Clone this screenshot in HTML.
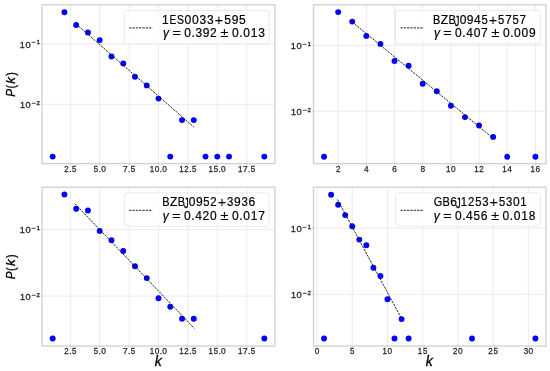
<!DOCTYPE html>
<html><head><meta charset="utf-8"><title>Degree distributions P(k)</title>
<style>html,body{margin:0;padding:0;background:#fff;}svg{display:block;will-change:transform;}</style></head><body>
<svg width="550" height="371" viewBox="0 0 550 371" font-family='"Liberation Sans", sans-serif'>
<rect width="550" height="371" fill="#fff"/>
<g stroke="#ebebeb" stroke-width="1"><line x1="70.32" y1="4.8" x2="70.32" y2="163.6"/><line x1="99.71" y1="4.8" x2="99.71" y2="163.6"/><line x1="129.11" y1="4.8" x2="129.11" y2="163.6"/><line x1="158.5" y1="4.8" x2="158.5" y2="163.6"/><line x1="187.89" y1="4.8" x2="187.89" y2="163.6"/><line x1="217.29" y1="4.8" x2="217.29" y2="163.6"/><line x1="246.68" y1="4.8" x2="246.68" y2="163.6"/><line x1="42.1" y1="43.8" x2="274.9" y2="43.8"/><line x1="42.1" y1="104.3" x2="274.9" y2="104.3"/></g>
<rect x="42.1" y="4.8" width="232.8" height="158.8" fill="none" stroke="#d0d0d0" stroke-width="1.3"/>
<g stroke="#bdbdbd" stroke-width="0.9"><line x1="70.32" y1="164.2" x2="70.32" y2="165.2"/><line x1="99.71" y1="164.2" x2="99.71" y2="165.2"/><line x1="129.11" y1="164.2" x2="129.11" y2="165.2"/><line x1="158.5" y1="164.2" x2="158.5" y2="165.2"/><line x1="187.89" y1="164.2" x2="187.89" y2="165.2"/><line x1="217.29" y1="164.2" x2="217.29" y2="165.2"/><line x1="246.68" y1="164.2" x2="246.68" y2="165.2"/><line x1="41.5" y1="43.8" x2="40.5" y2="43.8"/><line x1="41.5" y1="104.3" x2="40.5" y2="104.3"/></g>
<g fill="#0000ff"><circle cx="52.68" cy="156.6" r="2.95"/><circle cx="64.44" cy="12.2" r="2.95"/><circle cx="76.2" cy="25" r="2.95"/><circle cx="87.95" cy="32.5" r="2.95"/><circle cx="99.71" cy="40.1" r="2.95"/><circle cx="111.47" cy="56.5" r="2.95"/><circle cx="123.23" cy="63.4" r="2.95"/><circle cx="134.98" cy="76.7" r="2.95"/><circle cx="146.74" cy="85.4" r="2.95"/><circle cx="158.5" cy="98.6" r="2.95"/><circle cx="170.26" cy="156.6" r="2.95"/><circle cx="182.02" cy="120.1" r="2.95"/><circle cx="193.77" cy="120.1" r="2.95"/><circle cx="205.53" cy="156.6" r="2.95"/><circle cx="217.29" cy="156.6" r="2.95"/><circle cx="229.05" cy="156.6" r="2.95"/><circle cx="264.32" cy="156.6" r="2.95"/></g>
<line x1="76.2" y1="24" x2="193.77" y2="127" stroke="#1a1a1a" stroke-width="0.95" stroke-dasharray="2.3 1.0"/>
<g stroke="#ebebeb" stroke-width="1"><line x1="338.16" y1="4.8" x2="338.16" y2="163.6"/><line x1="366.34" y1="4.8" x2="366.34" y2="163.6"/><line x1="394.52" y1="4.8" x2="394.52" y2="163.6"/><line x1="422.7" y1="4.8" x2="422.7" y2="163.6"/><line x1="450.89" y1="4.8" x2="450.89" y2="163.6"/><line x1="479.07" y1="4.8" x2="479.07" y2="163.6"/><line x1="507.25" y1="4.8" x2="507.25" y2="163.6"/><line x1="535.43" y1="4.8" x2="535.43" y2="163.6"/><line x1="313.5" y1="45.4" x2="546" y2="45.4"/><line x1="313.5" y1="111.2" x2="546" y2="111.2"/></g>
<rect x="313.5" y="4.8" width="232.5" height="158.8" fill="none" stroke="#d0d0d0" stroke-width="1.3"/>
<g stroke="#bdbdbd" stroke-width="0.9"><line x1="338.16" y1="164.2" x2="338.16" y2="165.2"/><line x1="366.34" y1="164.2" x2="366.34" y2="165.2"/><line x1="394.52" y1="164.2" x2="394.52" y2="165.2"/><line x1="422.7" y1="164.2" x2="422.7" y2="165.2"/><line x1="450.89" y1="164.2" x2="450.89" y2="165.2"/><line x1="479.07" y1="164.2" x2="479.07" y2="165.2"/><line x1="507.25" y1="164.2" x2="507.25" y2="165.2"/><line x1="535.43" y1="164.2" x2="535.43" y2="165.2"/><line x1="312.9" y1="45.4" x2="311.9" y2="45.4"/><line x1="312.9" y1="111.2" x2="311.9" y2="111.2"/></g>
<g fill="#0000ff"><circle cx="324.07" cy="156.7" r="2.95"/><circle cx="338.16" cy="12.1" r="2.95"/><circle cx="352.25" cy="21.6" r="2.95"/><circle cx="366.34" cy="35.9" r="2.95"/><circle cx="380.43" cy="43.9" r="2.95"/><circle cx="394.52" cy="61" r="2.95"/><circle cx="408.61" cy="65.8" r="2.95"/><circle cx="422.7" cy="83.7" r="2.95"/><circle cx="436.8" cy="91.2" r="2.95"/><circle cx="450.89" cy="105.8" r="2.95"/><circle cx="464.98" cy="117.1" r="2.95"/><circle cx="479.07" cy="125.5" r="2.95"/><circle cx="493.16" cy="136.9" r="2.95"/><circle cx="507.25" cy="156.8" r="2.95"/><circle cx="535.43" cy="156.8" r="2.95"/></g>
<line x1="352.25" y1="22" x2="493.16" y2="138.3" stroke="#1a1a1a" stroke-width="0.95" stroke-dasharray="2.3 1.0"/>
<g stroke="#ebebeb" stroke-width="1"><line x1="70.32" y1="187.2" x2="70.32" y2="346"/><line x1="99.71" y1="187.2" x2="99.71" y2="346"/><line x1="129.11" y1="187.2" x2="129.11" y2="346"/><line x1="158.5" y1="187.2" x2="158.5" y2="346"/><line x1="187.89" y1="187.2" x2="187.89" y2="346"/><line x1="217.29" y1="187.2" x2="217.29" y2="346"/><line x1="246.68" y1="187.2" x2="246.68" y2="346"/><line x1="42.1" y1="229.4" x2="274.9" y2="229.4"/><line x1="42.1" y1="296.1" x2="274.9" y2="296.1"/></g>
<rect x="42.1" y="187.2" width="232.8" height="158.8" fill="none" stroke="#d0d0d0" stroke-width="1.3"/>
<g stroke="#bdbdbd" stroke-width="0.9"><line x1="70.32" y1="346.6" x2="70.32" y2="347.6"/><line x1="99.71" y1="346.6" x2="99.71" y2="347.6"/><line x1="129.11" y1="346.6" x2="129.11" y2="347.6"/><line x1="158.5" y1="346.6" x2="158.5" y2="347.6"/><line x1="187.89" y1="346.6" x2="187.89" y2="347.6"/><line x1="217.29" y1="346.6" x2="217.29" y2="347.6"/><line x1="246.68" y1="346.6" x2="246.68" y2="347.6"/><line x1="41.5" y1="229.4" x2="40.5" y2="229.4"/><line x1="41.5" y1="296.1" x2="40.5" y2="296.1"/></g>
<g fill="#0000ff"><circle cx="52.68" cy="338.5" r="2.95"/><circle cx="64.44" cy="194.5" r="2.95"/><circle cx="76.2" cy="208.8" r="2.95"/><circle cx="87.95" cy="210.5" r="2.95"/><circle cx="99.71" cy="230.9" r="2.95"/><circle cx="111.47" cy="240.3" r="2.95"/><circle cx="123.23" cy="251" r="2.95"/><circle cx="134.98" cy="266.3" r="2.95"/><circle cx="146.74" cy="278.1" r="2.95"/><circle cx="158.5" cy="298.3" r="2.95"/><circle cx="170.26" cy="306.8" r="2.95"/><circle cx="182.02" cy="318.7" r="2.95"/><circle cx="193.77" cy="318.7" r="2.95"/><circle cx="264.32" cy="338.5" r="2.95"/></g>
<line x1="75.02" y1="203.8" x2="194.36" y2="328.4" stroke="#1a1a1a" stroke-width="0.95" stroke-dasharray="2.3 1.0"/>
<g stroke="#ebebeb" stroke-width="1"><line x1="317.02" y1="187.2" x2="317.02" y2="346"/><line x1="352.25" y1="187.2" x2="352.25" y2="346"/><line x1="387.48" y1="187.2" x2="387.48" y2="346"/><line x1="422.7" y1="187.2" x2="422.7" y2="346"/><line x1="457.93" y1="187.2" x2="457.93" y2="346"/><line x1="493.16" y1="187.2" x2="493.16" y2="346"/><line x1="528.39" y1="187.2" x2="528.39" y2="346"/><line x1="313.5" y1="228.2" x2="546" y2="228.2"/><line x1="313.5" y1="294.4" x2="546" y2="294.4"/></g>
<rect x="313.5" y="187.2" width="232.5" height="158.8" fill="none" stroke="#d0d0d0" stroke-width="1.3"/>
<g stroke="#bdbdbd" stroke-width="0.9"><line x1="317.02" y1="346.6" x2="317.02" y2="347.6"/><line x1="352.25" y1="346.6" x2="352.25" y2="347.6"/><line x1="387.48" y1="346.6" x2="387.48" y2="347.6"/><line x1="422.7" y1="346.6" x2="422.7" y2="347.6"/><line x1="457.93" y1="346.6" x2="457.93" y2="347.6"/><line x1="493.16" y1="346.6" x2="493.16" y2="347.6"/><line x1="528.39" y1="346.6" x2="528.39" y2="347.6"/><line x1="312.9" y1="228.2" x2="311.9" y2="228.2"/><line x1="312.9" y1="294.4" x2="311.9" y2="294.4"/></g>
<g fill="#0000ff"><circle cx="324.07" cy="338.5" r="2.95"/><circle cx="331.11" cy="194.7" r="2.95"/><circle cx="338.16" cy="204.7" r="2.95"/><circle cx="345.2" cy="215.1" r="2.95"/><circle cx="352.25" cy="226.2" r="2.95"/><circle cx="359.3" cy="239.6" r="2.95"/><circle cx="366.34" cy="245.2" r="2.95"/><circle cx="373.39" cy="267.8" r="2.95"/><circle cx="380.43" cy="276" r="2.95"/><circle cx="387.48" cy="299.2" r="2.95"/><circle cx="394.52" cy="338.5" r="2.95"/><circle cx="401.57" cy="319.1" r="2.95"/><circle cx="408.61" cy="338.5" r="2.95"/><circle cx="472.02" cy="338.5" r="2.95"/><circle cx="535.43" cy="338.5" r="2.95"/></g>
<line x1="337.45" y1="199.5" x2="401.57" y2="318.8" stroke="#1a1a1a" stroke-width="0.95" stroke-dasharray="2.3 1.0"/>
<rect x="124.3" y="10.5" width="144.9" height="33.3" rx="2.3" fill="#fff" fill-opacity="0.8" stroke="#e4e4e4" stroke-width="0.8"/>
<line x1="129.2" y1="27.9" x2="152.5" y2="27.9" stroke="#1a1a1a" stroke-width="0.95" stroke-dasharray="2.3 1.0"/>
<rect x="395.6" y="10.5" width="144.8" height="33.3" rx="2.3" fill="#fff" fill-opacity="0.8" stroke="#e4e4e4" stroke-width="0.8"/>
<line x1="400.5" y1="27.9" x2="423.8" y2="27.9" stroke="#1a1a1a" stroke-width="0.95" stroke-dasharray="2.3 1.0"/>
<rect x="124.3" y="192.9" width="144.9" height="33.3" rx="2.3" fill="#fff" fill-opacity="0.8" stroke="#e4e4e4" stroke-width="0.8"/>
<line x1="129.2" y1="210.3" x2="152.5" y2="210.3" stroke="#1a1a1a" stroke-width="0.95" stroke-dasharray="2.3 1.0"/>
<rect x="395.6" y="192.9" width="144.8" height="33.3" rx="2.3" fill="#fff" fill-opacity="0.8" stroke="#e4e4e4" stroke-width="0.8"/>
<line x1="400.5" y1="210.3" x2="423.8" y2="210.3" stroke="#1a1a1a" stroke-width="0.95" stroke-dasharray="2.3 1.0"/>
<text fill="#262626" stroke="#262626" stroke-width="0.25"><tspan x="69.22" y="171.85" font-size="8.3">.</tspan></text><text transform="translate(66.5,171.85) scale(0.966,1)" x="-2.31" y="0" font-size="8.3" fill="#262626" stroke="#262626" stroke-width="0.25">2</text><text transform="translate(74.1,171.85) scale(0.948,1)" x="-2.3" y="0" font-size="8.3" fill="#262626" stroke="#262626" stroke-width="0.25">5</text>
<text fill="#262626" stroke="#262626" stroke-width="0.25"><tspan x="98.51 101.13" y="171.85 171.85" font-size="8.3">.0</tspan></text><text transform="translate(95.86,171.85) scale(0.948,1)" x="-2.3" y="0" font-size="8.3" fill="#262626" stroke="#262626" stroke-width="0.25">5</text>
<text fill="#262626" stroke="#262626" stroke-width="0.25"><tspan x="123.03 127.97" y="171.85 171.85" font-size="8.3">7.</tspan></text><text transform="translate(132.86,171.85) scale(0.948,1)" x="-2.3" y="0" font-size="8.3" fill="#262626" stroke="#262626" stroke-width="0.25">5</text>
<text fill="#262626" stroke="#262626" stroke-width="0.25"><tspan x="154.76 159.68 162.3" y="171.85 171.85 171.85" font-size="8.3">0.0</tspan></text><text transform="translate(152.12,171.85) scale(0.958,1)" x="-2.42" y="0" font-size="8.3" fill="#262626" stroke="#262626" stroke-width="0.25">1</text>
<text fill="#262626" stroke="#262626" stroke-width="0.25"><tspan x="189.16" y="171.85" font-size="8.3">.</tspan></text><text transform="translate(181.59,171.85) scale(0.958,1)" x="-2.42" y="0" font-size="8.3" fill="#262626" stroke="#262626" stroke-width="0.25">1</text><text transform="translate(186.44,171.85) scale(0.966,1)" x="-2.31" y="0" font-size="8.3" fill="#262626" stroke="#262626" stroke-width="0.25">2</text><text transform="translate(194.05,171.85) scale(0.948,1)" x="-2.3" y="0" font-size="8.3" fill="#262626" stroke="#262626" stroke-width="0.25">5</text>
<text fill="#262626" stroke="#262626" stroke-width="0.25"><tspan x="218.47 221.09" y="171.85 171.85" font-size="8.3">.0</tspan></text><text transform="translate(210.9,171.85) scale(0.958,1)" x="-2.42" y="0" font-size="8.3" fill="#262626" stroke="#262626" stroke-width="0.25">1</text><text transform="translate(215.82,171.85) scale(0.948,1)" x="-2.3" y="0" font-size="8.3" fill="#262626" stroke="#262626" stroke-width="0.25">5</text>
<text fill="#262626" stroke="#262626" stroke-width="0.25"><tspan x="243.01 247.95" y="171.85 171.85" font-size="8.3">7.</tspan></text><text transform="translate(240.38,171.85) scale(0.958,1)" x="-2.42" y="0" font-size="8.3" fill="#262626" stroke="#262626" stroke-width="0.25">1</text><text transform="translate(252.83,171.85) scale(0.948,1)" x="-2.3" y="0" font-size="8.3" fill="#262626" stroke="#262626" stroke-width="0.25">5</text>
<text fill="#262626" stroke="#262626" stroke-width="0.3"><tspan x="25.53" y="47.7" font-size="9.4">0</tspan><tspan x="36.62" y="44.25" font-size="6.2">1</tspan></text><text transform="translate(22.5,47.7) scale(0.964,1)" x="-2.74" y="0" font-size="9.4" fill="#262626" stroke="#262626" stroke-width="0.3">1</text><text transform="translate(33.73,42.28) scale(0.811,1.197)" x="-2.92" y="3.33" font-size="10" fill="#262626">−</text>
<text fill="#262626" stroke="#262626" stroke-width="0.3"><tspan x="25.58" y="108.2" font-size="9.4">0</tspan><tspan x="36.62" y="104.75" font-size="6.2">2</tspan></text><text transform="translate(22.55,108.2) scale(0.964,1)" x="-2.74" y="0" font-size="9.4" fill="#262626" stroke="#262626" stroke-width="0.3">1</text><text transform="translate(33.78,102.78) scale(0.811,1.197)" x="-2.92" y="3.33" font-size="10" fill="#262626">−</text>
<text fill="#000" stroke="#000" stroke-width="0.2"><tspan x="162.05 184.46 191.94 199.42 206.9 224.16 231.63 239.1" y="23.7 23.7 23.7 23.7 23.7 23.7 23.7 23.7" font-size="12">10033595</tspan></text><text transform="translate(173.09,23.7) scale(0.849,1)" x="-4.24" y="0" font-size="12" fill="#000" stroke="#000" stroke-width="0.2">E</text><text transform="translate(180.39,23.7) scale(0.873,1)" x="-4" y="0" font-size="12" fill="#000" stroke="#000" stroke-width="0.2">S</text><text transform="translate(218.88,20.09) scale(1.513,1.475)" x="-2.92" y="3.32" font-size="10" fill="#000">+</text>
<text fill="#000" stroke="#000" stroke-width="0.2"><tspan x="162.99" y="37.4" font-size="12" font-style="italic">γ</tspan><tspan x="184.18 191.44 195.39 202.8 210.01 232.04 239.3 243.24 250.65 258.18" y="37.4 37.4 37.4 37.4 37.4 37.4 37.4 37.4 37.4 37.4" font-size="12">0.3920.013</tspan></text><text transform="translate(176.58,33.8) scale(1.512,1.007)" x="-2.92" y="3.29" font-size="10" fill="#000">=</text><text transform="translate(224.44,33.79) scale(1.512,1.212)" x="-2.75" y="2.97" font-size="10" fill="#000">±</text>
<text fill="#262626" stroke="#262626" stroke-width="0.25"></text><text transform="translate(338.16,171.85) scale(0.966,1)" x="-2.31" y="0" font-size="8.3" fill="#262626" stroke="#262626" stroke-width="0.25">2</text>
<text fill="#262626" stroke="#262626" stroke-width="0.25"><tspan x="364.06" y="171.85" font-size="8.3">4</tspan></text>
<text fill="#262626" stroke="#262626" stroke-width="0.25"><tspan x="392.19" y="171.85" font-size="8.3">6</tspan></text>
<text fill="#262626" stroke="#262626" stroke-width="0.25"><tspan x="420.4" y="171.85" font-size="8.3">8</tspan></text>
<text fill="#262626" stroke="#262626" stroke-width="0.25"><tspan x="450.92" y="171.85" font-size="8.3">0</tspan></text><text transform="translate(448.27,171.85) scale(0.958,1)" x="-2.42" y="0" font-size="8.3" fill="#262626" stroke="#262626" stroke-width="0.25">1</text>
<text fill="#262626" stroke="#262626" stroke-width="0.25"></text><text transform="translate(476.59,171.85) scale(0.958,1)" x="-2.42" y="0" font-size="8.3" fill="#262626" stroke="#262626" stroke-width="0.25">1</text><text transform="translate(481.44,171.85) scale(0.966,1)" x="-2.31" y="0" font-size="8.3" fill="#262626" stroke="#262626" stroke-width="0.25">2</text>
<text fill="#262626" stroke="#262626" stroke-width="0.25"><tspan x="507.24" y="171.85" font-size="8.3">4</tspan></text><text transform="translate(504.59,171.85) scale(0.958,1)" x="-2.42" y="0" font-size="8.3" fill="#262626" stroke="#262626" stroke-width="0.25">1</text>
<text fill="#262626" stroke="#262626" stroke-width="0.25"><tspan x="535.45" y="171.85" font-size="8.3">6</tspan></text><text transform="translate(532.8,171.85) scale(0.958,1)" x="-2.42" y="0" font-size="8.3" fill="#262626" stroke="#262626" stroke-width="0.25">1</text>
<text fill="#262626" stroke="#262626" stroke-width="0.3"><tspan x="296.53" y="49.3" font-size="9.4">0</tspan><tspan x="307.62" y="45.85" font-size="6.2">1</tspan></text><text transform="translate(293.5,49.3) scale(0.964,1)" x="-2.74" y="0" font-size="9.4" fill="#262626" stroke="#262626" stroke-width="0.3">1</text><text transform="translate(304.73,43.88) scale(0.811,1.197)" x="-2.92" y="3.33" font-size="10" fill="#262626">−</text>
<text fill="#262626" stroke="#262626" stroke-width="0.3"><tspan x="296.58" y="115.1" font-size="9.4">0</tspan><tspan x="307.62" y="111.65" font-size="6.2">2</tspan></text><text transform="translate(293.55,115.1) scale(0.964,1)" x="-2.74" y="0" font-size="9.4" fill="#262626" stroke="#262626" stroke-width="0.3">1</text><text transform="translate(304.78,109.68) scale(0.811,1.197)" x="-2.92" y="3.33" font-size="10" fill="#262626">−</text>
<text fill="#000" stroke="#000" stroke-width="0.2"><tspan x="440.74 459.63 466.78 474.01" y="23.7 23.7 23.7 23.7" font-size="12">Z094</tspan></text><text transform="translate(436.82,23.7) scale(0.915,1)" x="-4.18" y="0" font-size="12" fill="#000" stroke="#000" stroke-width="0.2">B</text><text transform="translate(452.32,23.7) scale(0.915,1)" x="-4.18" y="0" font-size="12" fill="#000" stroke="#000" stroke-width="0.2">B</text><text transform="translate(456.86,20.66) scale(0.936,1.531)" x="-2.21" y="3.39" font-size="10" fill="#000" stroke="#000" stroke-width="0.2">J</text><text transform="translate(484.48,23.7) scale(0.938,1)" x="-3.32" y="0" font-size="12" fill="#000" stroke="#000" stroke-width="0.2">5</text><text transform="translate(492.87,20.09) scale(1.456,1.475)" x="-2.92" y="3.32" font-size="10" fill="#000">+</text><text transform="translate(501.14,23.7) scale(0.938,1)" x="-3.32" y="0" font-size="12" fill="#000" stroke="#000" stroke-width="0.2">5</text><text transform="translate(508.37,23.7) scale(0.971,1)" x="-3.34" y="0" font-size="12" fill="#000" stroke="#000" stroke-width="0.2">7</text><text transform="translate(515.52,23.7) scale(0.938,1)" x="-3.32" y="0" font-size="12" fill="#000" stroke="#000" stroke-width="0.2">5</text><text transform="translate(522.75,23.7) scale(0.971,1)" x="-3.34" y="0" font-size="12" fill="#000" stroke="#000" stroke-width="0.2">7</text>
<text fill="#000" stroke="#000" stroke-width="0.2"><tspan x="433.89" y="37.4" font-size="12" font-style="italic">γ</tspan><tspan x="455.08 462.34 466.27 473.74 481.03 502.93 510.19 514.12 521.59 529.01" y="37.4 37.4 37.4 37.4 37.4 37.4 37.4 37.4 37.4 37.4" font-size="12">0.4070.009</tspan></text><text transform="translate(447.48,33.8) scale(1.511,1.007)" x="-2.92" y="3.29" font-size="10" fill="#000">=</text><text transform="translate(495.33,33.79) scale(1.511,1.212)" x="-2.75" y="2.97" font-size="10" fill="#000">±</text>
<text fill="#262626" stroke="#262626" stroke-width="0.25"><tspan x="69.22" y="354.25" font-size="8.3">.</tspan></text><text transform="translate(66.5,354.25) scale(0.966,1)" x="-2.31" y="0" font-size="8.3" fill="#262626" stroke="#262626" stroke-width="0.25">2</text><text transform="translate(74.1,354.25) scale(0.948,1)" x="-2.3" y="0" font-size="8.3" fill="#262626" stroke="#262626" stroke-width="0.25">5</text>
<text fill="#262626" stroke="#262626" stroke-width="0.25"><tspan x="98.51 101.13" y="354.25 354.25" font-size="8.3">.0</tspan></text><text transform="translate(95.86,354.25) scale(0.948,1)" x="-2.3" y="0" font-size="8.3" fill="#262626" stroke="#262626" stroke-width="0.25">5</text>
<text fill="#262626" stroke="#262626" stroke-width="0.25"><tspan x="123.03 127.97" y="354.25 354.25" font-size="8.3">7.</tspan></text><text transform="translate(132.86,354.25) scale(0.948,1)" x="-2.3" y="0" font-size="8.3" fill="#262626" stroke="#262626" stroke-width="0.25">5</text>
<text fill="#262626" stroke="#262626" stroke-width="0.25"><tspan x="154.76 159.68 162.3" y="354.25 354.25 354.25" font-size="8.3">0.0</tspan></text><text transform="translate(152.12,354.25) scale(0.958,1)" x="-2.42" y="0" font-size="8.3" fill="#262626" stroke="#262626" stroke-width="0.25">1</text>
<text fill="#262626" stroke="#262626" stroke-width="0.25"><tspan x="189.16" y="354.25" font-size="8.3">.</tspan></text><text transform="translate(181.59,354.25) scale(0.958,1)" x="-2.42" y="0" font-size="8.3" fill="#262626" stroke="#262626" stroke-width="0.25">1</text><text transform="translate(186.44,354.25) scale(0.966,1)" x="-2.31" y="0" font-size="8.3" fill="#262626" stroke="#262626" stroke-width="0.25">2</text><text transform="translate(194.05,354.25) scale(0.948,1)" x="-2.3" y="0" font-size="8.3" fill="#262626" stroke="#262626" stroke-width="0.25">5</text>
<text fill="#262626" stroke="#262626" stroke-width="0.25"><tspan x="218.47 221.09" y="354.25 354.25" font-size="8.3">.0</tspan></text><text transform="translate(210.9,354.25) scale(0.958,1)" x="-2.42" y="0" font-size="8.3" fill="#262626" stroke="#262626" stroke-width="0.25">1</text><text transform="translate(215.82,354.25) scale(0.948,1)" x="-2.3" y="0" font-size="8.3" fill="#262626" stroke="#262626" stroke-width="0.25">5</text>
<text fill="#262626" stroke="#262626" stroke-width="0.25"><tspan x="243.01 247.95" y="354.25 354.25" font-size="8.3">7.</tspan></text><text transform="translate(240.38,354.25) scale(0.958,1)" x="-2.42" y="0" font-size="8.3" fill="#262626" stroke="#262626" stroke-width="0.25">1</text><text transform="translate(252.83,354.25) scale(0.948,1)" x="-2.3" y="0" font-size="8.3" fill="#262626" stroke="#262626" stroke-width="0.25">5</text>
<text fill="#262626" stroke="#262626" stroke-width="0.3"><tspan x="25.53" y="233.3" font-size="9.4">0</tspan><tspan x="36.62" y="229.85" font-size="6.2">1</tspan></text><text transform="translate(22.5,233.3) scale(0.964,1)" x="-2.74" y="0" font-size="9.4" fill="#262626" stroke="#262626" stroke-width="0.3">1</text><text transform="translate(33.73,227.88) scale(0.811,1.197)" x="-2.92" y="3.33" font-size="10" fill="#262626">−</text>
<text fill="#262626" stroke="#262626" stroke-width="0.3"><tspan x="25.58" y="300" font-size="9.4">0</tspan><tspan x="36.62" y="296.55" font-size="6.2">2</tspan></text><text transform="translate(22.55,300) scale(0.964,1)" x="-2.74" y="0" font-size="9.4" fill="#262626" stroke="#262626" stroke-width="0.3">1</text><text transform="translate(33.78,294.58) scale(0.811,1.197)" x="-2.92" y="3.33" font-size="10" fill="#262626">−</text>
<text fill="#000" stroke="#000" stroke-width="0.2"><tspan x="169.93 188.78 195.92 234.09 248.48" y="206.1 206.1 206.1 206.1 206.1" font-size="12">Z0996</tspan></text><text transform="translate(166.02,206.1) scale(0.914,1)" x="-4.18" y="0" font-size="12" fill="#000" stroke="#000" stroke-width="0.2">B</text><text transform="translate(181.49,206.1) scale(0.914,1)" x="-4.18" y="0" font-size="12" fill="#000" stroke="#000" stroke-width="0.2">B</text><text transform="translate(186.02,203.06) scale(0.936,1.531)" x="-2.21" y="3.39" font-size="10" fill="#000" stroke="#000" stroke-width="0.2">J</text><text transform="translate(206.42,206.1) scale(0.936,1)" x="-3.32" y="0" font-size="12" fill="#000" stroke="#000" stroke-width="0.2">5</text><text transform="translate(213.5,206.1) scale(0.955,1)" x="-3.34" y="0" font-size="12" fill="#000" stroke="#000" stroke-width="0.2">2</text><text transform="translate(221.97,202.49) scale(1.453,1.475)" x="-2.92" y="3.32" font-size="10" fill="#000">+</text><text transform="translate(230.26,206.1) scale(0.952,1)" x="-3.3" y="0" font-size="12" fill="#000" stroke="#000" stroke-width="0.2">3</text><text transform="translate(244.62,206.1) scale(0.952,1)" x="-3.3" y="0" font-size="12" fill="#000" stroke="#000" stroke-width="0.2">3</text>
<text fill="#000" stroke="#000" stroke-width="0.2"><tspan x="162.7" y="219.8" font-size="12" font-style="italic">γ</tspan><tspan x="183.97 191.25 195.2 202.54 210.04 232 239.28 243.23 250.67 258.2" y="219.8 219.8 219.8 219.8 219.8 219.8 219.8 219.8 219.8 219.8" font-size="12">0.4200.017</tspan></text><text transform="translate(176.33,216.2) scale(1.517,1.007)" x="-2.92" y="3.29" font-size="10" fill="#000">=</text><text transform="translate(224.36,216.19) scale(1.517,1.212)" x="-2.75" y="2.97" font-size="10" fill="#000">±</text>
<text fill="#262626" stroke="#262626" stroke-width="0.25"><tspan x="314.72" y="354.25" font-size="8.3">0</tspan></text>
<text fill="#262626" stroke="#262626" stroke-width="0.25"></text><text transform="translate(352.25,354.25) scale(0.948,1)" x="-2.3" y="0" font-size="8.3" fill="#262626" stroke="#262626" stroke-width="0.25">5</text>
<text fill="#262626" stroke="#262626" stroke-width="0.25"><tspan x="387.51" y="354.25" font-size="8.3">0</tspan></text><text transform="translate(384.86,354.25) scale(0.958,1)" x="-2.42" y="0" font-size="8.3" fill="#262626" stroke="#262626" stroke-width="0.25">1</text>
<text fill="#262626" stroke="#262626" stroke-width="0.25"></text><text transform="translate(420.17,354.25) scale(0.958,1)" x="-2.42" y="0" font-size="8.3" fill="#262626" stroke="#262626" stroke-width="0.25">1</text><text transform="translate(425.09,354.25) scale(0.948,1)" x="-2.3" y="0" font-size="8.3" fill="#262626" stroke="#262626" stroke-width="0.25">5</text>
<text fill="#262626" stroke="#262626" stroke-width="0.25"><tspan x="458.11" y="354.25" font-size="8.3">0</tspan></text><text transform="translate(455.28,354.25) scale(0.966,1)" x="-2.31" y="0" font-size="8.3" fill="#262626" stroke="#262626" stroke-width="0.25">2</text>
<text fill="#262626" stroke="#262626" stroke-width="0.25"></text><text transform="translate(490.59,354.25) scale(0.966,1)" x="-2.31" y="0" font-size="8.3" fill="#262626" stroke="#262626" stroke-width="0.25">2</text><text transform="translate(495.69,354.25) scale(0.948,1)" x="-2.3" y="0" font-size="8.3" fill="#262626" stroke="#262626" stroke-width="0.25">5</text>
<text fill="#262626" stroke="#262626" stroke-width="0.25"><tspan x="528.55" y="354.25" font-size="8.3">0</tspan></text><text transform="translate(525.82,354.25) scale(0.964,1)" x="-2.28" y="0" font-size="8.3" fill="#262626" stroke="#262626" stroke-width="0.25">3</text>
<text fill="#262626" stroke="#262626" stroke-width="0.3"><tspan x="296.53" y="232.1" font-size="9.4">0</tspan><tspan x="307.62" y="228.65" font-size="6.2">1</tspan></text><text transform="translate(293.5,232.1) scale(0.964,1)" x="-2.74" y="0" font-size="9.4" fill="#262626" stroke="#262626" stroke-width="0.3">1</text><text transform="translate(304.73,226.68) scale(0.811,1.197)" x="-2.92" y="3.33" font-size="10" fill="#262626">−</text>
<text fill="#262626" stroke="#262626" stroke-width="0.3"><tspan x="296.58" y="298.3" font-size="9.4">0</tspan><tspan x="307.62" y="294.85" font-size="6.2">2</tspan></text><text transform="translate(293.55,298.3) scale(0.964,1)" x="-2.74" y="0" font-size="9.4" fill="#262626" stroke="#262626" stroke-width="0.3">1</text><text transform="translate(304.78,292.88) scale(0.811,1.197)" x="-2.92" y="3.33" font-size="10" fill="#262626">−</text>
<text fill="#000" stroke="#000" stroke-width="0.2"><tspan x="450.24 513.07" y="206.1 206.1" font-size="12">60</tspan></text><text transform="translate(437.78,206.1) scale(0.914,1)" x="-4.52" y="0" font-size="12" fill="#000" stroke="#000" stroke-width="0.2">G</text><text transform="translate(446.29,206.1) scale(0.911,1)" x="-4.18" y="0" font-size="12" fill="#000" stroke="#000" stroke-width="0.2">B</text><text transform="translate(457.97,203.06) scale(0.936,1.531)" x="-2.21" y="3.39" font-size="10" fill="#000" stroke="#000" stroke-width="0.2">J</text><text transform="translate(464.15,206.1) scale(0.944,1)" x="-3.5" y="0" font-size="12" fill="#000" stroke="#000" stroke-width="0.2">1</text><text transform="translate(471.05,206.1) scale(0.952,1)" x="-3.34" y="0" font-size="12" fill="#000" stroke="#000" stroke-width="0.2">2</text><text transform="translate(478.3,206.1) scale(0.933,1)" x="-3.32" y="0" font-size="12" fill="#000" stroke="#000" stroke-width="0.2">5</text><text transform="translate(485.49,206.1) scale(0.949,1)" x="-3.3" y="0" font-size="12" fill="#000" stroke="#000" stroke-width="0.2">3</text><text transform="translate(493.81,202.49) scale(1.449,1.475)" x="-2.92" y="3.32" font-size="10" fill="#000">+</text><text transform="translate(502.04,206.1) scale(0.933,1)" x="-3.32" y="0" font-size="12" fill="#000" stroke="#000" stroke-width="0.2">5</text><text transform="translate(509.23,206.1) scale(0.949,1)" x="-3.3" y="0" font-size="12" fill="#000" stroke="#000" stroke-width="0.2">3</text><text transform="translate(523.66,206.1) scale(0.944,1)" x="-3.5" y="0" font-size="12" fill="#000" stroke="#000" stroke-width="0.2">1</text>
<text fill="#000" stroke="#000" stroke-width="0.2"><tspan x="433.87" y="219.8" font-size="12" font-style="italic">γ</tspan><tspan x="454.97 462.21 466.12 480.85 502.62 509.86 513.77 521.15 528.64" y="219.8 219.8 219.8 219.8 219.8 219.8 219.8 219.8 219.8" font-size="12">0.460.018</tspan></text><text transform="translate(447.42,216.2) scale(1.505,1.007)" x="-2.92" y="3.29" font-size="10" fill="#000">=</text><text transform="translate(476.84,219.8) scale(0.970,1)" x="-3.32" y="0" font-size="12" fill="#000" stroke="#000" stroke-width="0.2">5</text><text transform="translate(495.07,216.19) scale(1.505,1.212)" x="-2.75" y="2.97" font-size="10" fill="#000">±</text>
<g transform="translate(14.6,96.4) rotate(-90)"><text fill="#000" stroke="#000" stroke-width="0.3"><tspan x="12.78" y="0" font-size="13.4" font-style="italic">k</tspan></text><text transform="translate(3.68,0) scale(0.871,1)" x="-4.64" y="0" font-size="13.4" fill="#000" stroke="#000" stroke-width="0.3" font-style="italic">P</text><text transform="translate(9.92,0) scale(0.808,1)" x="-2.61" y="0" font-size="13.4" fill="#000" stroke="#000" stroke-width="0.3">(</text><text transform="translate(22.26,0) scale(0.808,1)" x="-1.86" y="0" font-size="13.4" fill="#000" stroke="#000" stroke-width="0.3">)</text></g>
<g transform="translate(14.6,278.8) rotate(-90)"><text fill="#000" stroke="#000" stroke-width="0.3"><tspan x="12.78" y="0" font-size="13.4" font-style="italic">k</tspan></text><text transform="translate(3.68,0) scale(0.871,1)" x="-4.64" y="0" font-size="13.4" fill="#000" stroke="#000" stroke-width="0.3" font-style="italic">P</text><text transform="translate(9.92,0) scale(0.808,1)" x="-2.61" y="0" font-size="13.4" fill="#000" stroke="#000" stroke-width="0.3">(</text><text transform="translate(22.26,0) scale(0.808,1)" x="-1.86" y="0" font-size="13.4" fill="#000" stroke="#000" stroke-width="0.3">)</text></g>
<text fill="#000" stroke="#000" stroke-width="0.3"><tspan x="154.69" y="366.2" font-size="14" font-style="italic">k</tspan></text>
<text fill="#000" stroke="#000" stroke-width="0.3"><tspan x="425.79" y="366.2" font-size="14" font-style="italic">k</tspan></text>
</svg></body></html>
